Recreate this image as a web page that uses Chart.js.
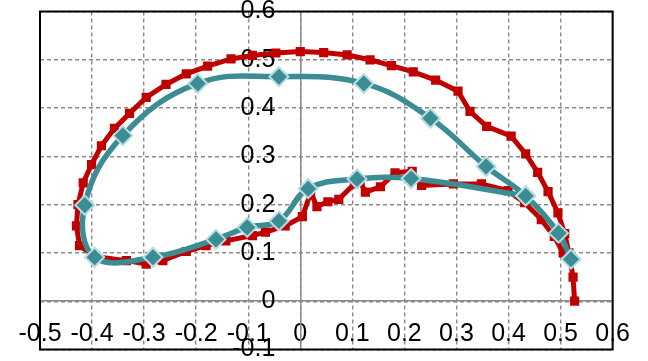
<!DOCTYPE html>
<html>
<head>
<meta charset="utf-8">
<script src="https://cdn.jsdelivr.net/npm/chart.js@4"></script>
<style>
  html, body { margin: 0; padding: 0; background: #ffffff; }
  #wrap { width: 648px; height: 361px; }
</style>
</head>
<body>
<div id="wrap"><canvas id="chart"></canvas></div>
<script>
// red series (square markers)
const redX = [0.527, 0.524, 0.516, 0.508, 0.495, 0.476, 0.456, 0.433, 0.405, 0.358, 0.326, 0.303, 0.260, 0.217,
  0.175, 0.134, 0.090, 0.045, 0.000, -0.047, -0.092, -0.133, -0.178, -0.219, -0.258, -0.296, -0.328, -0.357,
  -0.382, -0.401, -0.417, -0.427, -0.430, -0.424, -0.392, -0.334, -0.296, -0.264, -0.219, -0.181, -0.143,
  -0.092, -0.067, -0.029, 0.004, 0.020, 0.032, 0.053, 0.074, 0.104, 0.115, 0.125, 0.154, 0.182, 0.215,
  0.233, 0.294, 0.348, 0.399, 0.431, 0.463, 0.488, 0.505];
const redY = [0.000, 0.050, 0.100, 0.140, 0.183, 0.227, 0.267, 0.305, 0.342, 0.362, 0.393, 0.435, 0.458, 0.475,
  0.488, 0.500, 0.510, 0.515, 0.517, 0.514, 0.509, 0.502, 0.487, 0.471, 0.449, 0.422, 0.389, 0.358,
  0.322, 0.283, 0.245, 0.200, 0.156, 0.115, 0.092, 0.084, 0.077, 0.084, 0.103, 0.115, 0.125,
  0.136, 0.143, 0.156, 0.175, 0.225, 0.196, 0.206, 0.211, 0.243, 0.248, 0.226, 0.237, 0.266, 0.269,
  0.240, 0.243, 0.243, 0.229, 0.204, 0.169, 0.134, 0.100];

// teal series (diamond markers, smoothed)
const tealX = [0.520, 0.496, 0.433, 0.357, 0.250, 0.122, -0.041, -0.197, -0.341, -0.414, -0.395, -0.283,
  -0.162, -0.102, -0.041, 0.015, 0.109, 0.213, 0.433];
const tealY = [0.087, 0.141, 0.218, 0.279, 0.379, 0.451, 0.465, 0.451, 0.343, 0.199, 0.091, 0.091,
  0.128, 0.153, 0.166, 0.233, 0.253, 0.254, 0.218];

const xMin = -0.5, xMax = 0.6, yMin = -0.1, yMax = 0.6, step = 0.1;

const redColor = "#c00000";
const tealColor = "#3b8c93";
const tealEdge = "#b4dde3";
const gridColor = "#8a8a8a";
const fontFamily = "'Liberation Sans', Arial, sans-serif";
const fontSize = 25;

const toPoints = (xs, ys) => xs.map((x, i) => ({ x: x, y: ys[i] }));
const fmt = v => String(+v.toFixed(1));
// y labels sit left of the x=0 axis; en spaces keep them off the line
const fmtY = v => fmt(v) + "\u2002\u2002";

const framePlugin = {
    id: "frame",
    afterDraw(chart) {
        const { ctx, chartArea: a } = chart;
        ctx.save();
        ctx.strokeStyle = "#000000";
        ctx.lineWidth = 2;
        ctx.strokeRect(a.left, a.top, a.right - a.left, a.bottom - a.top);
        ctx.restore();
    }
};

new Chart(document.getElementById("chart"), {
    type: "scatter",
    data: {
        datasets: [
            {
                data: toPoints(tealX, tealY),
                showLine: true,
                tension: 0.4,
                borderColor: tealColor,
                borderWidth: 5.5,
                pointStyle: "rectRot",
                pointRadius: 9.5,
                pointBackgroundColor: tealColor,
                pointBorderColor: tealEdge,
                pointBorderWidth: 2,
                order: 1
            },
            {
                data: toPoints(redX, redY),
                showLine: true,
                tension: 0,
                borderColor: redColor,
                borderWidth: 5,
                pointStyle: "rect",
                pointRadius: 6.5,
                pointBackgroundColor: redColor,
                pointBorderColor: redColor,
                pointBorderWidth: 0,
                order: 2
            }
        ]
    },
    options: {
        responsive: true,
        maintainAspectRatio: false,
        animation: false,
        layout: { padding: { left: 40, right: 33, top: 11, bottom: 10 } },
        plugins: {
            legend: { display: false },
            tooltip: { enabled: false }
        },
        scales: {
            x: {
                type: "linear",
                position: { y: 0 },
                min: xMin,
                max: xMax,
                grid: { color: gridColor, lineWidth: 1.4, drawTicks: false },
                border: { color: gridColor, width: 1.5, dash: [4, 3] },
                ticks: {
                    stepSize: step,
                    autoSkip: false,
                    maxRotation: 0,
                    padding: 18,
                    color: "#000000",
                    font: { family: fontFamily, size: fontSize },
                    callback: fmt
                }
            },
            y: {
                type: "linear",
                position: { x: 0 },
                min: yMin,
                max: yMax,
                grid: { color: gridColor, lineWidth: 1.4, drawTicks: false },
                border: { color: gridColor, width: 1.5, dash: [4, 3] },
                ticks: {
                    stepSize: step,
                    autoSkip: false,
                    padding: 0,
                    color: "#000000",
                    font: { family: fontFamily, size: fontSize, lineHeight: 0.75 },
                    callback: fmtY
                }
            }
        }
    },
    plugins: [framePlugin]
});
</script>
</body>
</html>
